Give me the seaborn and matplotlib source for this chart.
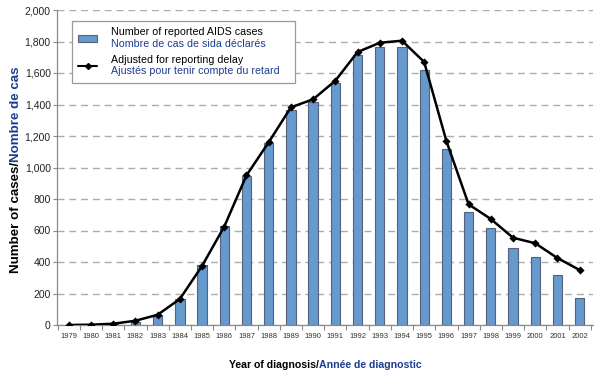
import numpy as np
import pandas as pd
import matplotlib
matplotlib.use("Agg")
import matplotlib.pyplot as plt
from matplotlib.patches import Patch
from matplotlib.lines import Line2D
from matplotlib.ticker import FuncFormatter, MultipleLocator
import seaborn as sns

years = [str(y) for y in range(1979, 2003)]
reported = [0, 1, 5, 22, 63, 165, 379, 628, 948, 1157, 1365, 1414, 1538, 1714,
            1765, 1765, 1619, 1119, 720, 618, 491, 434, 315, 171]
adjusted = [0, 2, 8, 27, 65, 165, 375, 625, 950, 1160, 1382, 1433, 1551, 1733,
            1792, 1805, 1670, 1168, 766, 673, 554, 519, 425, 349]

label_bar_en = "Number of reported AIDS cases"
label_bar_fr = "Nombre de cas de sida déclarés"
label_line_en = "Adjusted for reporting delay"
label_line_fr = "Ajustés pour tenir compte du retard"
xlabel_en, xlabel_fr = "Year of diagnosis/", "Année de diagnostic"
ylabel_en, ylabel_fr = "Number of cases/", "Nombre de cas"

BAR = "#6699cc"
BAR_EDGE = "#55627e"
NAVY = "#1c3d8f"
LEG_FS = 7.7

df = pd.DataFrame({"year": years, "reported": reported, "adjusted": adjusted})

sns.set_style("white")
plt.rcParams["font.family"] = ["Liberation Sans", "DejaVu Sans"]

fig = plt.figure(figsize=(5.94, 3.76), dpi=100)
ax = fig.add_axes([57 / 594, (376 - 325) / 376, 536 / 594, 315 / 376])

sns.barplot(data=df, x="year", y="reported", color=BAR, saturation=1,
            width=0.42, edgecolor=BAR_EDGE, linewidth=0.8, ax=ax, zorder=2)
sns.pointplot(data=df, x="year", y="adjusted", color="black", markers="D",
              markersize=2.8, linewidth=1.8, errorbar=None, ax=ax, zorder=3)

ax.set_xlim(-0.53, 23.6)
ax.set_ylim(0, 2000)
ax.yaxis.set_major_locator(MultipleLocator(200))
ax.yaxis.set_major_formatter(FuncFormatter(lambda v, p: f"{int(v):,}"))
ax.set_xlabel("")
ax.set_ylabel("")

ax.set_axisbelow(True)
ax.grid(axis="y", color="#adadad", linestyle=(0, (5, 3.5)), linewidth=1.0)
ax.grid(axis="x", visible=False)

for s in ["top", "right"]:
    ax.spines[s].set_visible(False)
for s in ["left", "bottom"]:
    ax.spines[s].set_color("#8a8a8a")
    ax.spines[s].set_linewidth(0.9)

ax.tick_params(axis="y", which="major", direction="out", length=3, width=0.8,
               color="#8a8a8a", pad=1.5, labelsize=7.5, labelcolor="#222222", left=True)
ax.tick_params(axis="x", which="major", length=0, pad=6, labelsize=5.5,
               labelcolor="#333333")
ax.set_xticks(np.arange(-0.5, 24, 1), minor=True)
ax.tick_params(axis="x", which="minor", direction="out", length=3.5, width=0.8,
               color="#8a8a8a", bottom=True)

handles = [Patch(facecolor=BAR, edgecolor=BAR_EDGE, linewidth=0.8),
           Line2D([], [], color="black", marker="D", markersize=3, linewidth=1.5)]
pairs = [(label_bar_en, label_bar_fr), (label_line_en, label_line_fr)]
leg = ax.legend(handles, [en + "\n" + fr + "   " for en, fr in pairs],
                loc="upper left", bbox_to_anchor=(0.028, 0.966), borderaxespad=0,
                fontsize=LEG_FS, frameon=True, fancybox=False, edgecolor="#9a9a9a",
                framealpha=1, handlelength=1.7, handleheight=0.6,
                handletextpad=1.35, labelspacing=0.55, borderpad=0.6)
leg.get_frame().set_linewidth(0.9)
for t, (en, fr) in zip(leg.get_texts(), pairs):
    t.set_color("none")
    ax.annotate(en, xy=(0, 1), xycoords=t, ha="left", va="top",
                fontsize=LEG_FS, color="black", annotation_clip=False, zorder=10)
    ax.annotate(fr, xy=(0, 0), xycoords=t, ha="left", va="bottom",
                fontsize=LEG_FS, color=NAVY, annotation_clip=False, zorder=10)

fig.canvas.draw()
r = fig.canvas.get_renderer()

# x label (two colours), centred on the axes
xb = (376 - 368) / 376
t1 = fig.text(0, xb, xlabel_en, fontsize=7.6, fontweight="bold", color="black",
              ha="left", va="baseline")
t2 = fig.text(0, xb, xlabel_fr, fontsize=7.6, fontweight="bold", color=NAVY,
              ha="left", va="baseline")
w1 = t1.get_window_extent(r).width
w2 = t2.get_window_extent(r).width
x0 = 325 - (w1 + w2) / 2
t1.set_x(x0 / 594)
t2.set_x((x0 + w1) / 594)

# y label (two colours), rotated, centred on the axes
yb = 19 / 594
s1 = fig.text(yb, 0, ylabel_en, fontsize=9.6, fontweight="bold", color="black",
              rotation=90, rotation_mode="anchor", ha="left", va="baseline")
s2 = fig.text(yb, 0, ylabel_fr, fontsize=9.6, fontweight="bold", color=NAVY,
              rotation=90, rotation_mode="anchor", ha="left", va="baseline")
h1 = s1.get_window_extent(r).height
h2 = s2.get_window_extent(r).height
yc = 376 - 170
y0 = yc - (h1 + h2) / 2
s1.set_y(y0 / 376)
s2.set_y((y0 + h1) / 376)

fig.savefig("out.png", dpi=100)
